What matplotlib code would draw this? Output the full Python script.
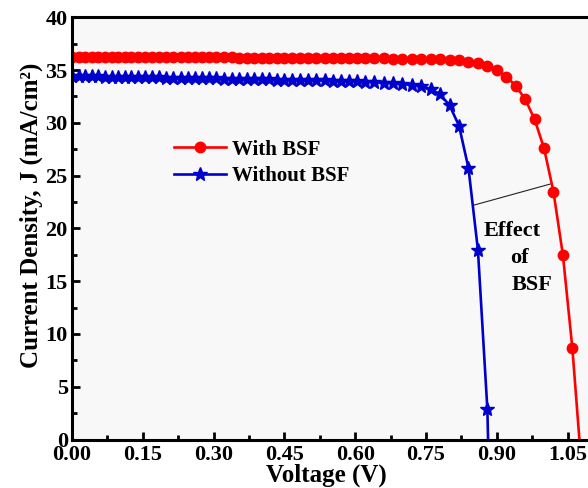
import matplotlib
matplotlib.use('Agg')
import matplotlib.pyplot as plt
from matplotlib.ticker import MultipleLocator

# J-V data (V in volts, J in mA/cm2), simulated points
voltage = [0.000, 0.014, 0.028, 0.042, 0.056, 0.070, 0.084, 0.098, 0.112, 0.126,
           0.140, 0.155, 0.170, 0.185, 0.200, 0.215, 0.230, 0.245, 0.260, 0.275,
           0.290, 0.306, 0.322, 0.338, 0.354, 0.370, 0.386, 0.402, 0.418, 0.434,
           0.450, 0.467, 0.484, 0.501, 0.518, 0.535, 0.552, 0.569, 0.586, 0.603,
           0.620, 0.640, 0.660, 0.680, 0.700, 0.720, 0.740, 0.760, 0.780, 0.800,
           0.820, 0.840, 0.860, 0.880, 0.900, 0.920, 0.940, 0.960, 0.980, 1.000,
           1.020, 1.040, 1.060]

j_bsf = [36.28, 36.28, 36.27, 36.27, 36.27, 36.26, 36.26, 36.26, 36.25, 36.25,
         36.25, 36.24, 36.24, 36.23, 36.23, 36.23, 36.22, 36.22, 36.22, 36.21,
         36.21, 36.20, 36.20, 36.20, 36.19, 36.19, 36.18, 36.18, 36.18, 36.17,
         36.17, 36.16, 36.16, 36.15, 36.15, 36.15, 36.14, 36.14, 36.13, 36.13,
         36.12, 36.11, 36.10, 36.09, 36.08, 36.07, 36.06, 36.05, 36.03, 36.00,
         35.93, 35.81, 35.64, 35.40, 35.02, 34.39, 33.51, 32.25, 30.35, 27.60,
         23.49, 17.49, 8.70]
voc_bsf = 1.075

j_nobsf = [34.45, 34.44, 34.43, 34.42, 34.41, 34.39, 34.38, 34.37, 34.36, 34.35,
           34.34, 34.33, 34.31, 34.30, 34.29, 34.28, 34.27, 34.25, 34.24, 34.23,
           34.22, 34.21, 34.19, 34.18, 34.17, 34.15, 34.14, 34.13, 34.12, 34.10,
           34.09, 34.08, 34.06, 34.05, 34.03, 34.02, 34.00, 33.98, 33.96, 33.94,
           33.91, 33.87, 33.82, 33.77, 33.71, 33.62, 33.46, 33.20, 32.70, 31.65,
           29.72, 25.71, 17.96, 2.89]
voc_nobsf = 0.8815

plt.rcParams['font.family'] = 'Liberation Serif'
plt.rcParams['font.weight'] = 'bold'

fig = plt.figure(figsize=(5.88, 4.88), dpi=100)
ax = fig.add_axes([72/588, 48.5/488, 566.4/588, 422.2/488])
ax.set_facecolor('#f8f8f8')

# curves end at J = 0 (Voc), markers only on the simulated points
v_red = voltage[:len(j_bsf)]
v_blue = voltage[:len(j_nobsf)]
ax.plot(v_red + [voc_bsf], j_bsf + [0], color='#ff0000', lw=1.9,
        marker='o', ms=7.5, markevery=list(range(len(v_red))), label='With BSF')
ax.plot(v_blue + [voc_nobsf], j_nobsf + [0], color='#0000cc', lw=1.9,
        marker='*', ms=10, markevery=list(range(len(v_blue))), label='Without BSF')

# annotation
ax.plot([0.851, 1.013], [22.2, 24.2], color='#222222', lw=0.8)
ax.text(0.932, 19.8, 'Effect', ha='center', va='center', fontsize=16, fontweight='bold')
ax.text(0.947, 17.2, 'of', ha='center', va='center', fontsize=16, fontweight='bold')
ax.text(0.975, 14.6, 'BSF', ha='center', va='center', fontsize=16, fontweight='bold')

ax.set_xlim(0, 1.2)
ax.set_ylim(0, 40)
ax.xaxis.set_major_locator(MultipleLocator(0.15))
ax.xaxis.set_minor_locator(MultipleLocator(0.075))
ax.yaxis.set_major_locator(MultipleLocator(5))
ax.yaxis.set_minor_locator(MultipleLocator(2.5))
ax.xaxis.set_major_formatter(lambda x, pos: f'{x:.2f}')
ax.tick_params(which='major', direction='in', length=6, width=2, labelsize=16)
ax.tick_params(axis='x', which='major', pad=4)
ax.tick_params(axis='y', which='major', pad=3)
ax.tick_params(which='minor', direction='in', length=3.5, width=2)
for s in ax.spines.values():
    s.set_linewidth(2.2)

ax.set_xlabel('Voltage (V)', fontsize=18, fontweight='bold')
ax.xaxis.set_label_coords(0.449, -0.058)
ax.set_ylabel('Current Density, J (mA/cm²)', fontsize=18, fontweight='bold')
ax.yaxis.set_label_coords(-0.052, 0.532)

ax.legend(loc='upper left', bbox_to_anchor=(0.165, 0.73), frameon=False,
          handlelength=2.5, handletextpad=0.3, labelspacing=0.3,
          borderaxespad=0, prop={'weight': 'bold', 'size': 15})

fig.savefig('out.png', dpi=100)
